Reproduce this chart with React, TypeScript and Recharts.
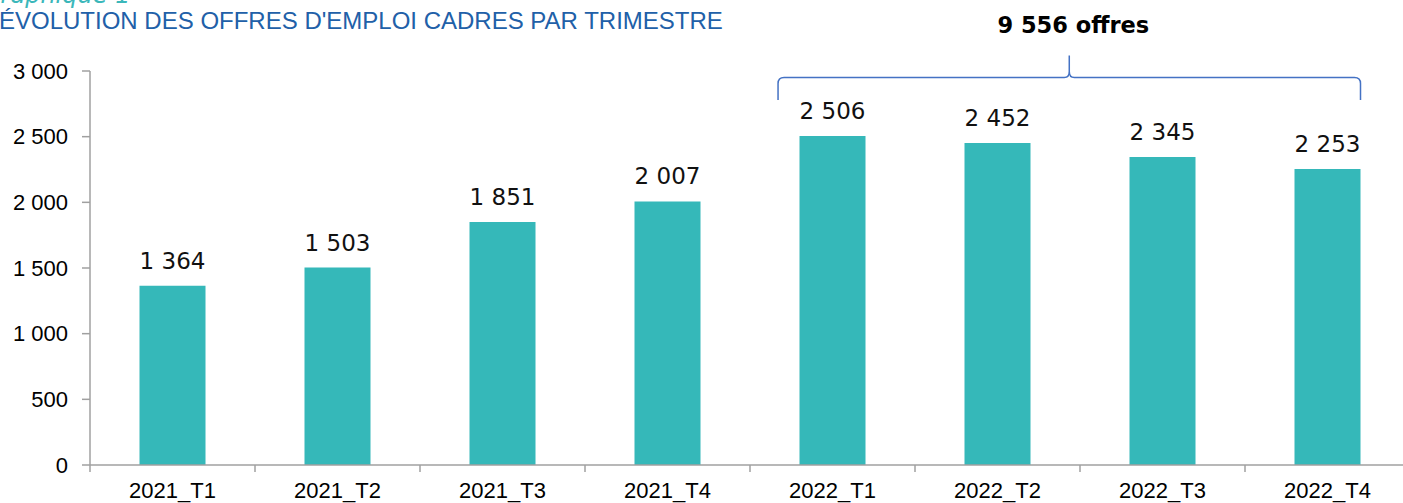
import React from 'react';
import { BarChart, Bar, XAxis, YAxis, LabelList, ReferenceArea } from 'recharts';

const categories = ['2021_T1', '2021_T2', '2021_T3', '2021_T4', '2022_T1', '2022_T2', '2022_T3', '2022_T4'];
const offres = [1364, 1503, 1851, 2007, 2506, 2452, 2345, 2253];
const yTicks = [0, 500, 1000, 1500, 2000, 2500, 3000];
const braceFrom = '2022_T1';
const braceTo = '2022_T4';
const braceYears = ['2022_T1', '2022_T2', '2022_T3', '2022_T4'];

const chartTitle = "ÉVOLUTION DES OFFRES D'EMPLOI CADRES PAR TRIMESTRE";
const chartKicker = 'Graphique 1';

const data = categories.map((c, i) => ({ cat: c, v: offres[i] }));
const braceTotal = categories.reduce((s, c, i) => (braceYears.includes(c) ? s + offres[i] : s), 0);

const fmt = (n: number) => String(n).replace(/\B(?=(\d{3})+(?!\d))/g, ' ');

const AXIS_GREY = '#A0A0A0';

const XTick = (props: any) => {
  const { x, y, payload, index, visibleTicksCount } = props;
  const off = payload && payload.offset ? payload.offset : 82.5;
  const last = index === (visibleTicksCount ?? categories.length) - 1;
  return (
    <g>
      <line x1={x - off} y1={y} x2={x - off} y2={y + 7} stroke={AXIS_GREY} strokeWidth={1.5} />
      {last && <line x1={x + off} y1={y} x2={x + off} y2={y + 7} stroke={AXIS_GREY} strokeWidth={1.5} />}
      <text x={x} y={y + 33} textAnchor="middle" fontFamily="'Liberation Sans', Arial, sans-serif" fontSize={22} fill="#000">
        {payload.value}
      </text>
    </g>
  );
};

const Brace = (props: any) => {
  const { x, y, width, height } = props;
  const band = width / 4;
  const L = x + 0.17 * band;
  const R = x + width - 0.3 * band;
  const M = (L + R) / 2;
  const T = y;
  const B = y + height;
  const P = T - 22;
  const r = 6;
  const d = `M ${L} ${B} L ${L} ${T + r} Q ${L} ${T} ${L + r} ${T} L ${M - 5} ${T} Q ${M} ${T} ${M} ${T - 6} L ${M} ${P} L ${M} ${T - 6} Q ${M} ${T} ${M + 5} ${T} L ${R - r} ${T} Q ${R} ${T} ${R} ${T + r} L ${R} ${B}`;
  return (
    <g>
      <path d={d} fill="none" stroke="#4472C4" strokeWidth={1.5} />
      <text x={M + 4} y={P - 23} textAnchor="middle" fontFamily="'DejaVu Sans', Verdana, sans-serif" fontWeight="bold" fontSize={22.5} fill="#000">
        {fmt(braceTotal)} offres
      </text>
    </g>
  );
};

export default function App() {
  return (
    <div style={{ position: 'absolute', left: 0, top: 0, width: 1403, height: 503, overflow: 'hidden', background: '#fff' }}>
      <BarChart width={1410} height={503} data={data} margin={{ top: 71, right: 0, bottom: 0, left: 0 }} barCategoryGap="30%">
        <XAxis
          dataKey="cat"
          height={38}
          axisLine={{ stroke: AXIS_GREY, strokeWidth: 1.5 }}
          tickLine={false}
          tickSize={0}
          tickMargin={0}
          interval={0}
          tick={<XTick />}
        />
        <YAxis
          width={90}
          domain={[0, 3000]}
          ticks={yTicks}
          interval={0}
          axisLine={{ stroke: AXIS_GREY, strokeWidth: 1.5 }}
          tickLine={{ stroke: AXIS_GREY, strokeWidth: 1.5 }}
          tickSize={8}
          tickMargin={14}
          tickFormatter={fmt}
          tick={{ fontFamily: "'Liberation Sans', Arial, sans-serif", fontSize: 22, fill: '#000' }}
        />
        <Bar dataKey="v" fill="#35B8B9" isAnimationActive={false}>
          <LabelList
            dataKey="v"
            position="top"
            offset={17}
            formatter={(v: any) => fmt(Number(v))}
            style={{ fontFamily: "'DejaVu Sans', Verdana, sans-serif", fontSize: 23, fill: '#111' }}
          />
        </Bar>
        <ReferenceArea x1={braceFrom} x2={braceTo} y1={2780} y2={2950} ifOverflow="visible" shape={<Brace />} />
      </BarChart>
      <svg width={1403} height={503} style={{ position: 'absolute', left: 0, top: 0, pointerEvents: 'none' }}>
        <text x={-18} y={3} fontFamily="'DejaVu Sans', Verdana, sans-serif" fontStyle="italic" fontSize={24} fill="#3BB7BA">
          {chartKicker}
        </text>
        <text x={-1} y={29} fontFamily="'Liberation Sans', Arial, sans-serif" fontSize={24} fill="#2160A8">
          {chartTitle}
        </text>
      </svg>
    </div>
  );
}
